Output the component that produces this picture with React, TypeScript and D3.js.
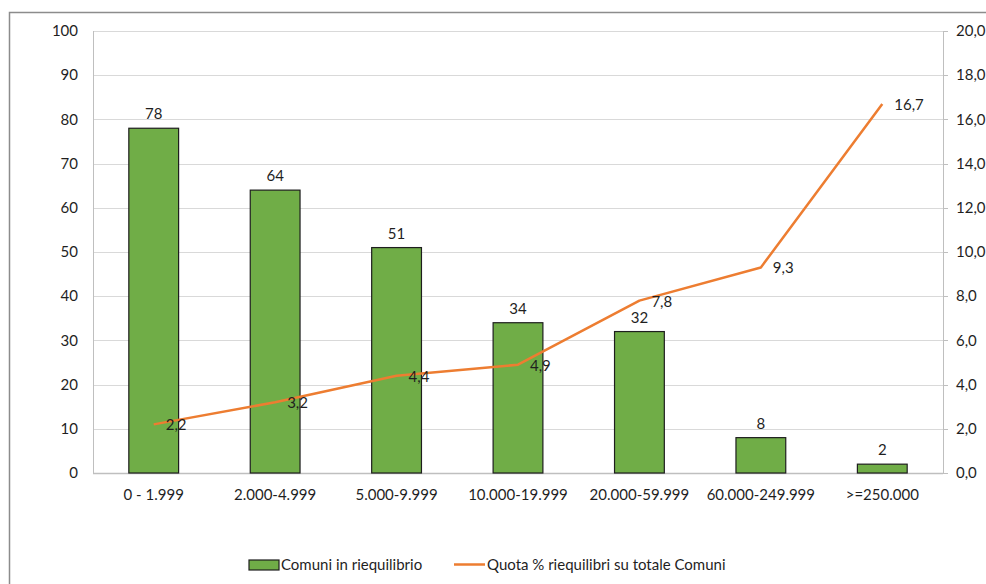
import React from "react";
import * as d3 from "d3";

const categories = ["0 - 1.999", "2.000-4.999", "5.000-9.999", "10.000-19.999", "20.000-59.999", "60.000-249.999", ">=250.000"];
const comuniValues = [78, 64, 51, 34, 32, 8, 2];
const quotaValues = [2.2, 3.2, 4.4, 4.9, 7.8, 9.3, 16.7];
const leftTicks = [0, 10, 20, 30, 40, 50, 60, 70, 80, 90, 100];
const rightTicks = [0, 2, 4, 6, 8, 10, 12, 14, 16, 18, 20];
const seriesNames = ["Comuni in riequilibrio", "Quota % riequilibri su totale Comuni"];

const W = 986;
const H = 584;
const plot = { left: 93, right: 943, top: 31, bottom: 473 };
const FONT = "Lato, 'Open Sans', sans-serif";
const FS = 15;
const TXT = "#1f1f1f";
const fmt = (v: number) => v.toFixed(1).replace(".", ",");

export default function App() {
  const x = d3.scaleBand<string>().domain(categories).range([plot.left, plot.right]).paddingInner(0).paddingOuter(0);
  const yL = d3.scaleLinear().domain([0, 100]).range([plot.bottom, plot.top]);
  const yR = d3.scaleLinear().domain([0, 20]).range([plot.bottom, plot.top]);
  const bw = x.bandwidth() * 0.41;
  const cx = (c: string) => (x(c) as number) + x.bandwidth() / 2;
  const line = d3.line<number>().x((_, i) => cx(categories[i])).y((d) => yR(d));

  return (
    <div style={{ position: "absolute", left: 0, top: 0 }}>
      <svg width={W} height={H} style={{ display: "block", fontFamily: FONT }}>
        <rect x={0} y={0} width={W} height={H} fill="#fff" />
        <rect x={9.5} y={12.5} width={W + 20} height={H + 20} fill="none" stroke="#8c8c8c" strokeWidth={1.5} />
        {leftTicks.map((t) => (
          <line key={"g" + t} x1={plot.left} x2={plot.right} y1={Math.round(yL(t)) + 0.5} y2={Math.round(yL(t)) + 0.5} stroke="#d9d9d9" strokeWidth={1} />
        ))}
        {leftTicks.map((t) => (
          <text key={"l" + t} x={78} y={yL(t)} dy="0.35em" textAnchor="end" fontSize={FS} fill={TXT}>{t}</text>
        ))}
        {rightTicks.map((t) => (
          <g key={"r" + t}>
            <line x1={plot.right} x2={plot.right + 5} y1={Math.round(yR(t)) + 0.5} y2={Math.round(yR(t)) + 0.5} stroke="#bfbfbf" />
            <text x={plot.right + 13} y={yR(t)} dy="0.35em" fontSize={FS} fill={TXT}>{fmt(t)}</text>
          </g>
        ))}
        <line x1={plot.left + 0.5} x2={plot.left + 0.5} y1={plot.top} y2={plot.bottom} stroke="#bfbfbf" />
        <line x1={plot.right + 0.5} x2={plot.right + 0.5} y1={plot.top} y2={plot.bottom} stroke="#bfbfbf" />
        <line x1={plot.left} x2={plot.right} y1={plot.bottom + 0.5} y2={plot.bottom + 0.5} stroke="#bfbfbf" strokeWidth={1.5} />
        {categories.map((c, i) => (
          <g key={c}>
            <rect x={cx(c) - bw / 2} y={yL(comuniValues[i])} width={bw} height={yL(0) - yL(comuniValues[i])} fill="#70ad47" stroke="#1e1e1e" strokeWidth={1.2} />
            <text x={cx(c)} y={yL(comuniValues[i]) - 9} textAnchor="middle" fontSize={FS} fill={TXT}>{comuniValues[i]}</text>
            <text x={cx(c)} y={plot.bottom + 27} textAnchor="middle" fontSize={FS} fill={TXT}>{c}</text>
          </g>
        ))}
        <path d={line(quotaValues) || ""} fill="none" stroke="#ed7d31" strokeWidth={2.5} strokeLinejoin="round" />
        {quotaValues.map((v, i) => (
          <text key={"q" + i} x={cx(categories[i]) + 12} y={yR(v)} dy="0.4em" fontSize={FS} fill={TXT}>{fmt(v)}</text>
        ))}
        <rect x={249} y={560} width={30} height={10} fill="#70ad47" stroke="#1e1e1e" strokeWidth={1.2} />
        <text x={281} y={565} dy="0.35em" fontSize={FS} fill={TXT}>{seriesNames[0]}</text>
        <line x1={454} x2={485} y1={564.5} y2={564.5} stroke="#ed7d31" strokeWidth={2.5} />
        <text x={487} y={565} dy="0.35em" fontSize={FS} fill={TXT}>{seriesNames[1]}</text>
      </svg>
    </div>
  );
}
